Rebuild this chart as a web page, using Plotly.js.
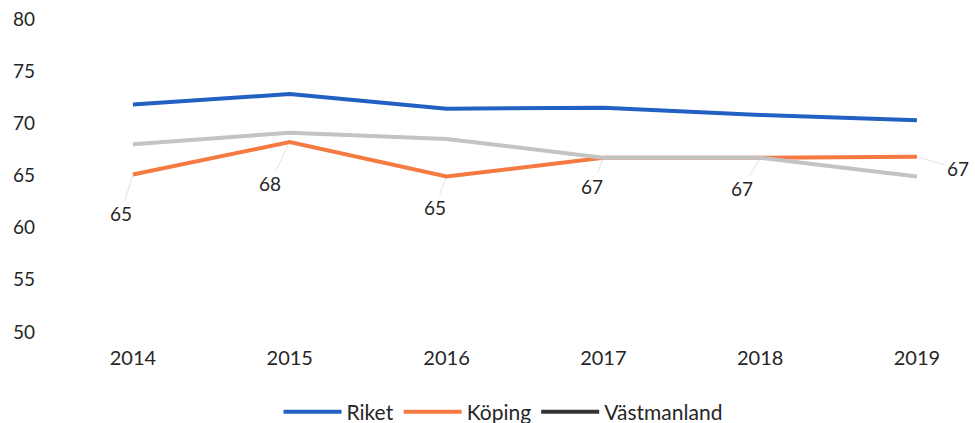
<!DOCTYPE html>
<html>
<head>
<meta charset="utf-8">
<script src="https://cdn.plot.ly/plotly-3.0.1.min.js"></script>
<style>html,body{margin:0;padding:0;background:#fff}#chart{width:975px;height:423px}</style>
</head>
<body>
<div id="chart"></div>
<script>
const years = ["2014", "2015", "2016", "2017", "2018", "2019"];
const riket = [71.8, 72.8, 71.4, 71.5, 70.8, 70.3];
const koping = [65.1, 68.2, 64.9, 66.7, 66.7, 66.8];
const vastmanland = [68.0, 69.1, 68.5, 66.7, 66.7, 64.9];
const yTicks = [50, 55, 60, 65, 70, 75, 80];

// label offsets (px) for Köping data labels
const labelDx = [-12, -20, -12, -11, -18, 41];
const labelDy = [39, 41, 31, 29, 31, 12];

const font = "Lato, sans-serif";
const textColor = "#262626";

const traces = [
  {x: years, y: riket, name: "Riket", type: "scatter", mode: "lines",
   line: {color: "#2260c4", width: 4}},
  {x: years, y: koping, name: "Köping", type: "scatter", mode: "lines",
   line: {color: "#f47a42", width: 4}},
  {x: years, y: vastmanland, name: "Västmanland", type: "scatter", mode: "lines",
   line: {color: "#c3c3c3", width: 4}, showlegend: false},
  {x: [null], y: [null], name: "Västmanland", type: "scatter", mode: "lines",
   line: {color: "#333333", width: 4}, hoverinfo: "skip"}
];

const annotations = years.map((yr, i) => ({
  x: i, y: koping[i], xref: "x", yref: "y",
  text: String(Math.round(koping[i])),
  showarrow: true, arrowhead: 0, arrowwidth: 1, arrowcolor: "#e3e3e3",
  ax: labelDx[i], ay: labelDy[i], standoff: 2,
  font: {family: font, size: 19, color: textColor}
}));

const layout = {
  width: 975, height: 423,
  margin: {l: 42, r: 11, t: 19, b: 91},
  paper_bgcolor: "#fff", plot_bgcolor: "#fff",
  showlegend: true,
  legend: {orientation: "h", x: 0.5, xanchor: "center", yref: "container", y: 0.026, yanchor: "middle",
           itemwidth: 58,
           font: {family: font, size: 21, color: textColor}, traceorder: "normal"},
  xaxis: {type: "category", range: [-0.58, 5.3], showgrid: false, zeroline: false,
          showline: false, ticks: "", ticklabelstandoff: 12,
          tickfont: {family: font, size: 20, color: textColor}},
  yaxis: {range: [50, 80], tickvals: yTicks, ticktext: yTicks.map(String),
          showgrid: false, zeroline: false, showline: false, ticks: "",
          ticklabelstandoff: 6,
          tickfont: {family: font, size: 19, color: textColor}},
  annotations: annotations
};

Plotly.newPlot("chart", traces, layout, {displayModeBar: false});
</script>
</body>
</html>
